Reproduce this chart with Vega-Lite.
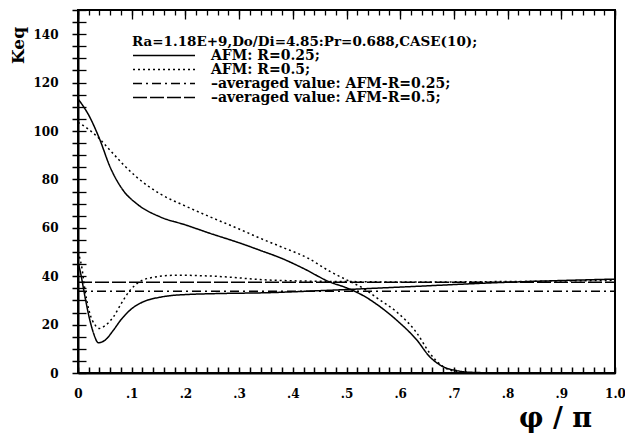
{
  "$schema": "https://vega.github.io/schema/vega-lite/v6.json",
  "width": 537,
  "height": 363,
  "autosize": {"type": "none"},
  "padding": {"left": 78, "top": 10, "right": 10, "bottom": 60},
  "background": "white",
  "config": {
    "view": {"stroke": "black", "strokeWidth": 2},
    "font": "DejaVu Serif",
    "axis": {"ticks": true, "tickColor": "black", "domainColor": "black", "labelColor": "black", "titleColor": "black", "gridColor": "black", "gridOpacity": 1}
  },
  "datasets": {
    "curves": [
      {"x": 0, "k": 113.3, "curve": "AFM: R=0.25;", "part": "a"},
      {"x": 0.022, "k": 105.7, "curve": "AFM: R=0.25;", "part": "a"},
      {"x": 0.04, "k": 96.8, "curve": "AFM: R=0.25;", "part": "a"},
      {"x": 0.06, "k": 85, "curve": "AFM: R=0.25;", "part": "a"},
      {"x": 0.084, "k": 75.5, "curve": "AFM: R=0.25;", "part": "a"},
      {"x": 0.109, "k": 70, "curve": "AFM: R=0.25;", "part": "a"},
      {"x": 0.153, "k": 64.5, "curve": "AFM: R=0.25;", "part": "a"},
      {"x": 0.2, "k": 61.2, "curve": "AFM: R=0.25;", "part": "a"},
      {"x": 0.246, "k": 57.7, "curve": "AFM: R=0.25;", "part": "a"},
      {"x": 0.3, "k": 53.8, "curve": "AFM: R=0.25;", "part": "a"},
      {"x": 0.339, "k": 50.7, "curve": "AFM: R=0.25;", "part": "a"},
      {"x": 0.38, "k": 47.3, "curve": "AFM: R=0.25;", "part": "a"},
      {"x": 0.419, "k": 43.3, "curve": "AFM: R=0.25;", "part": "a"},
      {"x": 0.469, "k": 37.6, "curve": "AFM: R=0.25;", "part": "a"},
      {"x": 0.5, "k": 35.2, "curve": "AFM: R=0.25;", "part": "a"},
      {"x": 0.531, "k": 32, "curve": "AFM: R=0.25;", "part": "a"},
      {"x": 0.56, "k": 27.8, "curve": "AFM: R=0.25;", "part": "a"},
      {"x": 0.593, "k": 21.9, "curve": "AFM: R=0.25;", "part": "a"},
      {"x": 0.631, "k": 13.6, "curve": "AFM: R=0.25;", "part": "a"},
      {"x": 0.655, "k": 6.7, "curve": "AFM: R=0.25;", "part": "a"},
      {"x": 0.68, "k": 2.6, "curve": "AFM: R=0.25;", "part": "a"},
      {"x": 0.705, "k": 1.0, "curve": "AFM: R=0.25;", "part": "a"},
      {"x": 0.73, "k": 0.3, "curve": "AFM: R=0.25;", "part": "a"},
      {"x": 0.8, "k": 0, "curve": "AFM: R=0.25;", "part": "a"},
      {"x": 1.0, "k": 0, "curve": "AFM: R=0.25;", "part": "a"},

      {"x": 0, "k": 103.6, "curve": "AFM: R=0.5;", "part": "a"},
      {"x": 0.016, "k": 101.3, "curve": "AFM: R=0.5;", "part": "a"},
      {"x": 0.04, "k": 96.8, "curve": "AFM: R=0.5;", "part": "a"},
      {"x": 0.06, "k": 92, "curve": "AFM: R=0.5;", "part": "a"},
      {"x": 0.085, "k": 86, "curve": "AFM: R=0.5;", "part": "a"},
      {"x": 0.109, "k": 81, "curve": "AFM: R=0.5;", "part": "a"},
      {"x": 0.153, "k": 74, "curve": "AFM: R=0.5;", "part": "a"},
      {"x": 0.2, "k": 69, "curve": "AFM: R=0.5;", "part": "a"},
      {"x": 0.246, "k": 64.5, "curve": "AFM: R=0.5;", "part": "a"},
      {"x": 0.3, "k": 59.5, "curve": "AFM: R=0.5;", "part": "a"},
      {"x": 0.339, "k": 55.7, "curve": "AFM: R=0.5;", "part": "a"},
      {"x": 0.38, "k": 52, "curve": "AFM: R=0.5;", "part": "a"},
      {"x": 0.428, "k": 47.5, "curve": "AFM: R=0.5;", "part": "a"},
      {"x": 0.469, "k": 42, "curve": "AFM: R=0.5;", "part": "a"},
      {"x": 0.5, "k": 38.5, "curve": "AFM: R=0.5;", "part": "a"},
      {"x": 0.531, "k": 35, "curve": "AFM: R=0.5;", "part": "a"},
      {"x": 0.56, "k": 30.5, "curve": "AFM: R=0.5;", "part": "a"},
      {"x": 0.593, "k": 25.3, "curve": "AFM: R=0.5;", "part": "a"},
      {"x": 0.631, "k": 16.5, "curve": "AFM: R=0.5;", "part": "a"},
      {"x": 0.655, "k": 8.2, "curve": "AFM: R=0.5;", "part": "a"},
      {"x": 0.68, "k": 2.6, "curve": "AFM: R=0.5;", "part": "a"},
      {"x": 0.7, "k": 0.8, "curve": "AFM: R=0.5;", "part": "a"},
      {"x": 0.73, "k": 0.1, "curve": "AFM: R=0.5;", "part": "a"},
      {"x": 0.8, "k": 0, "curve": "AFM: R=0.5;", "part": "a"},
      {"x": 1.0, "k": 0, "curve": "AFM: R=0.5;", "part": "a"},

      {"x": 0, "k": 46, "curve": "AFM: R=0.25;", "part": "b"},
      {"x": 0.006, "k": 40, "curve": "AFM: R=0.25;", "part": "b"},
      {"x": 0.013, "k": 31.5, "curve": "AFM: R=0.25;", "part": "b"},
      {"x": 0.022, "k": 21.9, "curve": "AFM: R=0.25;", "part": "b"},
      {"x": 0.029, "k": 16.4, "curve": "AFM: R=0.25;", "part": "b"},
      {"x": 0.038, "k": 12.5, "curve": "AFM: R=0.25;", "part": "b"},
      {"x": 0.05, "k": 13.5, "curve": "AFM: R=0.25;", "part": "b"},
      {"x": 0.066, "k": 17.7, "curve": "AFM: R=0.25;", "part": "b"},
      {"x": 0.08, "k": 22, "curve": "AFM: R=0.25;", "part": "b"},
      {"x": 0.097, "k": 26, "curve": "AFM: R=0.25;", "part": "b"},
      {"x": 0.128, "k": 30, "curve": "AFM: R=0.25;", "part": "b"},
      {"x": 0.15, "k": 31.2, "curve": "AFM: R=0.25;", "part": "b"},
      {"x": 0.184, "k": 32.2, "curve": "AFM: R=0.25;", "part": "b"},
      {"x": 0.277, "k": 32.9, "curve": "AFM: R=0.25;", "part": "b"},
      {"x": 0.339, "k": 33.1, "curve": "AFM: R=0.25;", "part": "b"},
      {"x": 0.469, "k": 34.2, "curve": "AFM: R=0.25;", "part": "b"},
      {"x": 0.6, "k": 35.5, "curve": "AFM: R=0.25;", "part": "b"},
      {"x": 0.8, "k": 37.5, "curve": "AFM: R=0.25;", "part": "b"},
      {"x": 1.0, "k": 38.8, "curve": "AFM: R=0.25;", "part": "b"},

      {"x": 0, "k": 50, "curve": "AFM: R=0.5;", "part": "b"},
      {"x": 0.007, "k": 43.8, "curve": "AFM: R=0.5;", "part": "b"},
      {"x": 0.013, "k": 34.2, "curve": "AFM: R=0.5;", "part": "b"},
      {"x": 0.022, "k": 24.6, "curve": "AFM: R=0.5;", "part": "b"},
      {"x": 0.032, "k": 19.8, "curve": "AFM: R=0.5;", "part": "b"},
      {"x": 0.04, "k": 18.4, "curve": "AFM: R=0.5;", "part": "b"},
      {"x": 0.05, "k": 19.5, "curve": "AFM: R=0.5;", "part": "b"},
      {"x": 0.066, "k": 23.2, "curve": "AFM: R=0.5;", "part": "b"},
      {"x": 0.08, "k": 28.5, "curve": "AFM: R=0.5;", "part": "b"},
      {"x": 0.097, "k": 34.2, "curve": "AFM: R=0.5;", "part": "b"},
      {"x": 0.112, "k": 37.3, "curve": "AFM: R=0.5;", "part": "b"},
      {"x": 0.128, "k": 39, "curve": "AFM: R=0.5;", "part": "b"},
      {"x": 0.184, "k": 40.4, "curve": "AFM: R=0.5;", "part": "b"},
      {"x": 0.277, "k": 39.7, "curve": "AFM: R=0.5;", "part": "b"},
      {"x": 0.339, "k": 38.6, "curve": "AFM: R=0.5;", "part": "b"},
      {"x": 0.42, "k": 38, "curve": "AFM: R=0.5;", "part": "b"},
      {"x": 0.5, "k": 37.8, "curve": "AFM: R=0.5;", "part": "b"},
      {"x": 0.6, "k": 37.6, "curve": "AFM: R=0.5;", "part": "b"},
      {"x": 0.8, "k": 37.8, "curve": "AFM: R=0.5;", "part": "b"},
      {"x": 1.0, "k": 38.3, "curve": "AFM: R=0.5;", "part": "b"}
    ],
    "avg": [
      {"x": 0, "k": 33.8, "curve": "–averaged value: AFM-R=0.25;"},
      {"x": 1, "k": 33.8, "curve": "–averaged value: AFM-R=0.25;"},
      {"x": 0, "k": 37.5, "curve": "–averaged value: AFM-R=0.5;"},
      {"x": 1, "k": 37.5, "curve": "–averaged value: AFM-R=0.5;"}
    ]
  },
  "layer": [
    {
      "data": {"name": "curves"},
      "mark": {"type": "line", "color": "black", "strokeWidth": 1.5, "interpolate": "monotone"},
      "encoding": {
        "x": {
          "field": "x", "type": "quantitative",
          "scale": {"domain": [0, 1], "nice": false},
          "axis": {
            "orient": "bottom",
            "values": [0,0.02,0.04,0.06,0.08,0.1,0.12,0.14,0.16,0.18,0.2,0.22,0.24,0.26,0.28,0.3,0.32,0.34,0.36,0.38,0.4,0.42,0.44,0.46,0.48,0.5,0.52,0.54,0.56,0.58,0.6,0.62,0.64,0.66,0.68,0.7,0.72,0.74,0.76,0.78,0.8,0.82,0.84,0.86,0.88,0.9,0.92,0.94,0.96,0.98,1],
            "labelExpr": "round(datum.value*50) % 5 == 0 ? (datum.value == 0 ? '0' : (datum.value >= 0.999 ? '1.0' : '.' + round(datum.value*10))) : ''",
            "ticks": true, "tickColor": "black", "tickSize": -6, "tickWidth": 1.5,
            "grid": true, "gridColor": "black", "gridWidth": 1.3, "gridDash": [5, 2000],
            "domainWidth": 2,
            "labelFont": "DejaVu Serif", "labelFontWeight": "bold", "labelFontSize": 12,
            "labelPadding": 21, "labelFlush": false, "labelOverlap": false,
            "title": "φ / π", "titleFont": "DejaVu Serif", "titleFontSize": 27, "titleFontWeight": "bold",
            "titleX": 477, "titleY": 32
          }
        },
        "y": {
          "field": "k", "type": "quantitative",
          "scale": {"domain": [0, 150], "nice": false},
          "axis": {
            "orient": "left",
            "values": [0,5,10,15,20,25,30,35,40,45,50,55,60,65,70,75,80,85,90,95,100,105,110,115,120,125,130,135,140,145,150],
            "labelExpr": "datum.value % 20 == 0 && datum.value <= 140 ? datum.value : ''",
            "ticks": true, "tickColor": "black", "tickSize": 6, "tickWidth": 1.5,
            "grid": true, "gridColor": "black", "gridWidth": 1.3, "gridDash": [8, 2000],
            "domainWidth": 2,
            "labelFont": "DejaVu Serif", "labelFontWeight": "bold", "labelFontSize": 12,
            "labelPadding": 14, "labelOverlap": false,
            "title": "Keq", "titleFont": "DejaVu Serif", "titleFontSize": 17, "titleFontWeight": "bold",
            "titleAngle": 270, "titleX": -60, "titleY": 35, "titleAlign": "center", "titleBaseline": "middle"
          }
        },
        "strokeDash": {
          "field": "curve", "type": "nominal",
          "scale": {
            "domain": ["AFM: R=0.25;", "AFM: R=0.5;", "–averaged value: AFM-R=0.25;", "–averaged value: AFM-R=0.5;"],
            "range": [[1, 0], [2, 3], [9, 4, 2, 4], [14, 3]]
          },
          "legend": {
            "orient": "none", "legendX": 54, "legendY": 25,
            "title": "Ra=1.18E+9,Do/Di=4.85:Pr=0.688,CASE(10);",
            "titleFont": "DejaVu Serif", "titleFontWeight": "bold", "titleFontSize": 13.5, "titleColor": "black",
            "titleLimit": 600, "titlePadding": 0,
            "labelFont": "DejaVu Serif", "labelFontWeight": "bold", "labelFontSize": 14, "labelColor": "black",
            "labelLimit": 600, "labelOffset": 15,
            "symbolType": "stroke", "symbolSize": 3844, "symbolStrokeWidth": 1.5, "symbolStrokeColor": "black",
            "clipHeight": 14, "rowPadding": 0
          }
        },
        "detail": {"field": "part", "type": "nominal"}
      }
    },
    {
      "data": {"name": "avg"},
      "mark": {"type": "line", "color": "black", "strokeWidth": 1.5},
      "encoding": {
        "x": {
          "field": "x", "type": "quantitative",
          "scale": {"domain": [0, 1], "nice": false},
          "axis": {
            "orient": "bottom",
            "values": [0,0.1,0.2,0.3,0.4,0.5,0.6,0.7,0.8,0.9,1],
            "ticks": false, "labels": false, "domain": false, "title": null,
            "grid": true, "gridColor": "black", "gridWidth": 1.3, "gridDash": [9, 2000]
          }
        },
        "y": {
          "field": "k", "type": "quantitative",
          "scale": {"domain": [0, 150], "nice": false},
          "axis": null
        },
        "strokeDash": {"field": "curve", "type": "nominal"}
      }
    }
  ],
  "resolve": {"axis": {"x": "independent", "y": "independent"}}
}
